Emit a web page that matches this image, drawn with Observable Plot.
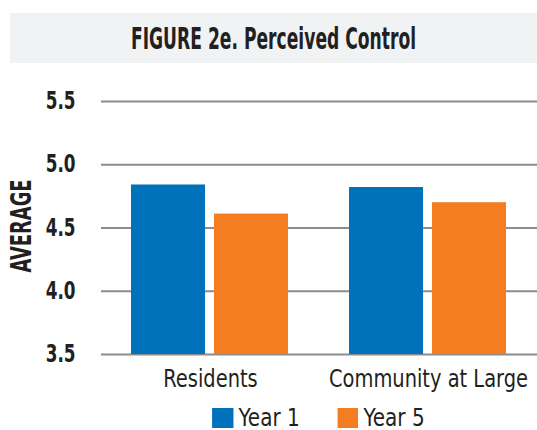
<!DOCTYPE html>
<html>
<head>
<meta charset="utf-8">
<script src="https://cdn.jsdelivr.net/npm/d3@7"></script>
<script src="https://cdn.jsdelivr.net/npm/@observablehq/plot@0.6"></script>
<style>
  body { margin: 0; background: #fff; width: 537px; height: 430px; overflow: hidden;
         font-family: "DejaVu Sans Condensed", "Liberation Sans Narrow", sans-serif; color: #231f20; }
  #title { position: absolute; left: 10px; top: 13px; width: 527px; height: 50px; background: #f1f2f4;
           display: flex; align-items: center; justify-content: center; }
  #title span { display: inline-block; font-weight: bold; font-size: 30px; color: #231f20;
                transform: scaleX(0.635); transform-origin: center; white-space: nowrap; }
  #chart { position: absolute; left: 0; top: 63px; }
  #ylabel { position: absolute; left: 21px; top: 226px; font-weight: bold; font-size: 28px; color: #231f20;
            white-space: nowrap; transform: translate(-50%, -50%) rotate(-90deg) scaleX(0.71); }
  #legend { position: absolute; left: 89px; top: 403px; width: 437px; display: flex; justify-content: center;
            align-items: center; font-size: 25px; color: #231f20; transform: scaleX(0.89); transform-origin: 318px 0; }
  #legend .item { display: flex; align-items: center; margin: 0 21px; }
  #legend .sw { width: 23.6px; height: 20px; margin-right: 6px; }
</style>
</head>
<body>
<div id="title"><span></span></div>
<div id="chart"></div>
<div id="ylabel"></div>
<div id="legend"></div>
<script>
const titleText = "FIGURE 2e. Perceived Control";
const categories = ["Residents", "Community at Large"];
const years = ["Year 1", "Year 5"];
const year1Values = [4.84, 4.82];
const year5Values = [4.61, 4.70];
const yTicks = [3.5, 4.0, 4.5, 5.0, 5.5];
const yLabel = "AVERAGE";
const colors = ["#0071bb", "#f47c21"];

document.querySelector("#title span").textContent = titleText;
document.getElementById("ylabel").textContent = yLabel;

const data = categories.flatMap((c, i) => [
  {group: c, year: years[0], value: year1Values[i]},
  {group: c, year: years[1], value: year5Values[i]}
]);

const font = '"DejaVu Sans Condensed", "Liberation Sans Narrow", sans-serif';

const plot = Plot.plot({
  width: 537,
  height: 337,
  marginLeft: 100,
  marginRight: 0,
  marginTop: 38,
  marginBottom: 46,
  style: {fontFamily: font, color: "#231f20", background: "transparent"},
  fx: {domain: categories, paddingInner: 0, paddingOuter: 0},
  x: {domain: years, paddingInner: 0.107, paddingOuter: 0.354},
  y: {domain: [yTicks[0], yTicks[yTicks.length - 1]]},
  color: {domain: years, range: colors},
  marks: [
    Plot.gridY(yTicks, {stroke: "#8c8c8c", strokeOpacity: 1, strokeWidth: 2}),
    Plot.barY(data, {fx: "group", x: "year", y: "value", fill: "year", clip: true}),
    Plot.axisY(yTicks, {tickSize: 0, tickPadding: 26, fontSize: 24, fontWeight: "bold",
      tickFormat: d => d.toFixed(1), label: null}),
    Plot.axisFx({anchor: "bottom", tickSize: 0, tickPadding: 15, fontSize: 24, label: null}),
    Plot.axisX({ticks: [], label: null})
  ]
});
document.getElementById("chart").appendChild(plot);

// condense the SVG texts to match the narrow face of the original
plot.querySelectorAll("text").forEach(t => {
  const bold = t.closest("[font-weight='bold']") || t.getAttribute("font-weight") === "bold";
  const k = bold ? 0.78 : 0.9;
  const len = t.getComputedTextLength();
  if (len > 0) {
    t.setAttribute("textLength", (len * k).toFixed(1));
    t.setAttribute("lengthAdjust", "spacingAndGlyphs");
  }
});

const legend = document.getElementById("legend");
years.forEach((y, i) => {
  const it = document.createElement("div");
  it.className = "item";
  it.innerHTML = `<span class="sw" style="background:${colors[i]}"></span><span>${y}</span>`;
  legend.appendChild(it);
});
</script>
</body>
</html>
